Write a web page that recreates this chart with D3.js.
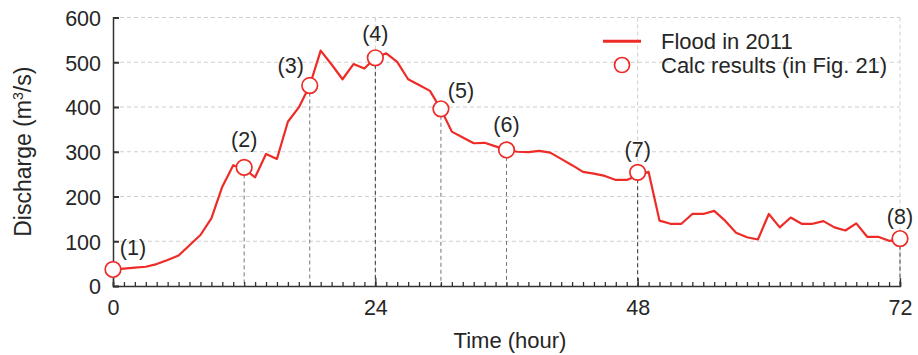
<!DOCTYPE html>
<html>
<head>
<meta charset="utf-8">
<script src="https://cdn.jsdelivr.net/npm/d3@7"></script>
<style>
  html, body { margin: 0; padding: 0; background: #fff; }
  svg { display: block; }
  text { font-family: "Liberation Sans", Arial, sans-serif; fill: #262626; }
</style>
</head>
<body>
<svg id="chart" width="918" height="355"></svg>
<script>
// ---------- data ----------
const hours = d3.range(0, 73);
const discharge = [
  37, 39, 41, 43, 49, 58, 68, 91, 114, 151,
  222, 270, 262, 243, 295, 284, 367, 399, 448, 526,
  495, 462, 496, 486, 510, 520, 501, 462, 449, 436,
  395, 345, 332, 319, 320, 312, 304, 300, 299, 302,
  298, 284, 270, 255, 251, 246, 237, 237, 247, 255,
  146, 139, 139, 161, 161, 168, 146, 119, 109, 104,
  161, 131, 153, 139, 139, 145, 131, 124, 140, 110,
  110, 101, 103
];
const calcTimes = [0, 12, 18, 24, 30, 36, 48, 72];
const calcValues = [37, 265, 448, 510, 396, 304, 254, 106];
const calcLabels = ["(1)", "(2)", "(3)", "(4)", "(5)", "(6)", "(7)", "(8)"];
const xTicks = [0, 24, 48, 72];
const yTicks = [0, 100, 200, 300, 400, 500, 600];
const legendLabels = ["Flood in 2011", "Calc results (in Fig. 21)"];

// ---------- layout ----------
const svg = d3.select("#chart");
const mLeft = 113, mRight = 900, mTop = 17.5, mBottom = 286;
const x = d3.scaleLinear().domain([0, 72]).range([mLeft, mRight]);
const y = d3.scaleLinear().domain([0, 600]).range([mBottom, mTop]);
const red = "#ee2b27";
const fs = 21.5;
const fsTitle = 22;
// label offsets (dx from point, dy baseline from point)
const labelOffsets = [[20, -14], [0, -20], [-19, -13], [0, -17], [20, -11], [0, -17.5], [0, -15], [0, -15]];

// grid
const grid = svg.append("g");
grid.selectAll("line.h").data(yTicks.filter(d => d > 0)).join("line")
  .attr("x1", mLeft).attr("x2", mRight)
  .attr("y1", d => y(d)).attr("y2", d => y(d))
  .attr("stroke", "#cfcfcf").attr("stroke-width", 1).attr("stroke-dasharray", "4,3");
grid.selectAll("line.v").data(xTicks.filter(d => d > 0)).join("line")
  .attr("x1", d => x(d)).attr("x2", d => x(d))
  .attr("y1", mTop).attr("y2", mBottom)
  .attr("stroke", "#cfcfcf").attr("stroke-width", 1).attr("stroke-dasharray", "4,3");

// drop lines
svg.append("g").selectAll("line").data(calcTimes.slice(1)).join("line")
  .attr("x1", d => x(d)).attr("x2", d => x(d))
  .attr("y1", (d, i) => y(calcValues[i + 1])).attr("y2", mBottom)
  .attr("stroke", d => xTicks.includes(d) ? "#333" : "#777")
  .attr("stroke-width", 1).attr("stroke-dasharray", "4,3");

// axes
const xAxisMinor = d3.axisBottom(x).tickValues(hours).tickSize(-4).tickFormat("");
const gxm = svg.append("g").attr("transform", `translate(0,${mBottom})`).call(xAxisMinor);
const xAxisMajor = d3.axisBottom(x).tickValues(xTicks).tickSize(-8).tickPadding(14).tickFormat(d3.format("d"));
const gx = svg.append("g").attr("transform", `translate(0,${mBottom})`).call(xAxisMajor);
const yAxis = d3.axisLeft(y).tickValues(yTicks).tickSize(-6).tickPadding(12).tickFormat(d3.format("d"));
const gy = svg.append("g").attr("transform", `translate(${mLeft},0)`).call(yAxis);
[gxm, gx, gy].forEach(g => {
  g.select(".domain").attr("stroke", "#333").attr("stroke-width", 1.5);
  g.selectAll(".tick line").attr("stroke", "#333").attr("stroke-width", 1.3);
  g.selectAll(".tick text").attr("font-size", fs).attr("fill", "#262626")
    .attr("font-family", '"Liberation Sans", Arial, sans-serif');
});
gy.selectAll(".tick line").attr("stroke-width", 2);
gx.select(".domain").remove();
gy.selectAll(".tick text").attr("dy", "0.36em");

// axis titles
svg.append("text").attr("x", 510).attr("y", 348)
  .attr("text-anchor", "middle").attr("font-size", fsTitle).text("Time (hour)");
const yl = svg.append("text").attr("transform", `translate(31,${(mTop + mBottom) / 2}) rotate(-90)`)
  .attr("text-anchor", "middle").attr("font-size", 23);
yl.append("tspan").text("Discharge (m");
yl.append("tspan").attr("dy", -8).attr("font-size", 14).text("3");
yl.append("tspan").attr("dy", 8).text("/s)");

// line
const line = d3.line().x((d, i) => x(hours[i])).y(d => y(d));
svg.append("path").datum(discharge).attr("d", line)
  .attr("fill", "none").attr("stroke", red).attr("stroke-width", 2.2).attr("stroke-linejoin", "round");

// calc points
svg.append("g").selectAll("circle").data(calcTimes).join("circle")
  .attr("cx", d => x(d)).attr("cy", (d, i) => y(calcValues[i])).attr("r", 7.8)
  .attr("fill", "#fff").attr("stroke", red).attr("stroke-width", 1.7);
svg.append("g").selectAll("text").data(calcLabels).join("text")
  .attr("x", (d, i) => x(calcTimes[i]) + labelOffsets[i][0])
  .attr("y", (d, i) => y(calcValues[i]) + labelOffsets[i][1])
  .attr("text-anchor", "middle").attr("font-size", fs).text(d => d);

// legend
const lg = svg.append("g");
lg.append("line").attr("x1", 603).attr("x2", 641).attr("y1", 41.3).attr("y2", 41.3)
  .attr("stroke", red).attr("stroke-width", 3);
lg.append("circle").attr("cx", 622).attr("cy", 65).attr("r", 7.5)
  .attr("fill", "#fff").attr("stroke", red).attr("stroke-width", 1.7);
lg.selectAll("text").data(legendLabels).join("text")
  .attr("x", 661).attr("y", (d, i) => 49 + i * 23.5)
  .attr("font-size", fsTitle).text(d => d);
</script>
</body>
</html>
